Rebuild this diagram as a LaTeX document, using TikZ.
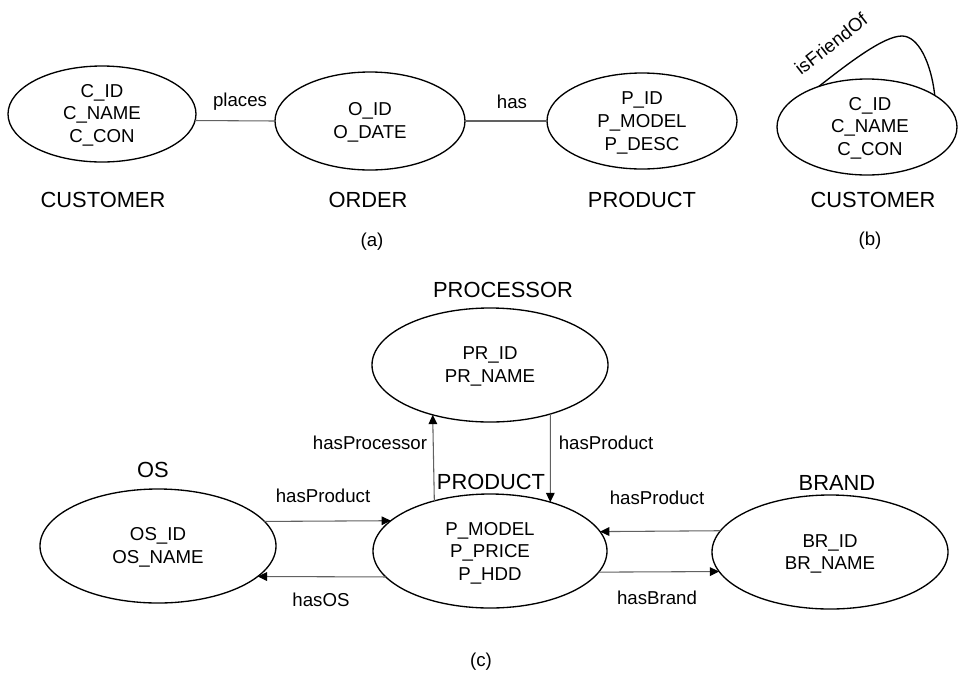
\documentclass[tikz,border=0pt]{standalone}
\usepackage{fontspec}
\setmainfont{Liberation Sans}
\usetikzlibrary{shapes.geometric,arrows.meta}
\tikzset{
  entity/.style={ellipse,draw=black,line width=1pt,inner sep=0pt,outer sep=0pt},
  attrs/.style={align=center,inner sep=0pt,font=\fontsize{14}{17}\selectfont},
  title/.style={inner sep=0pt,font=\fontsize{16.4}{20}\selectfont},
  rel/.style={inner sep=0pt,font=\fontsize{14}{17}\selectfont},
  link/.style={draw=black!62,line width=0.8pt},
  arc/.style={link,-{Triangle[length=7pt,width=6.5pt,color=black]}}
}
\newcommand{\ent}[5]{% name, x, y, rx, ry
  \node[entity,minimum width=#4*1.5pt,minimum height=#5*1.5pt] (#1) at (#2,#3) {};}
\begin{document}
\begin{tikzpicture}[x=0.75pt,y=-0.75pt]
\useasboundingbox (0,0) rectangle (960,679);

% ---------- (a) ----------
\ent{custA}{102}{114}{94}{48}
\ent{order}{370}{121}{95}{49}
\ent{prodA}{642}{121}{95}{48}
\node[attrs] (custAt) at (102,115) {C\_ID\\C\_NAME\\C\_CON};
\node[attrs] (ordert) at (370,122.5) {O\_ID\\O\_DATE};
\node[attrs] (prodAt) at (642,123) {P\_ID\\P\_MODEL\\P\_DESC};
\node[title] (custAn) at (103,200) {CUSTOMER};
\node[title] (ordern) at (368,200) {ORDER};
\node[title] (prodAn) at (642,200) {PRODUCT};
\node[rel] (capa) at (372,242) {(a)};
\draw[link] (custA.-4.3) -- (order.west);
\draw[link] (order.east) -- (prodA.west);
\node[rel] (places) at (240,102) {places};
\node[rel] (has) at (512,102) {has};

% ---------- (b) ----------
\ent{custB}{867}{127}{90}{48}
\node[attrs] (custBt) at (870,128) {C\_ID\\C\_NAME\\C\_CON};
\node[title] (custBn) at (873,200) {CUSTOMER};
\node[rel] (capb) at (870,241) {(b)};
\coordinate (loopTop) at (902,36);
\draw[line width=1pt] (custB.140) .. controls (850,62) and (884,36) .. (loopTop)
      .. controls (918,36) and (931,62) .. (custB.25);
\node[rel,rotate=38] (friend) at (831,44) {isFriendOf};

% ---------- (c) ----------
\ent{proc}{490}{365}{118}{57}
\ent{os}{158}{546}{118}{57}
\ent{prod}{490}{551}{117}{57}
\ent{brand}{830}{552}{118}{57}
\node[attrs] (proct) at (490,366.5) {PR\_ID\\PR\_NAME};
\node[attrs] (ost) at (158,547) {OS\_ID\\OS\_NAME};
\node[attrs] (prodt) at (490,553) {P\_MODEL\\P\_PRICE\\P\_HDD};
\node[attrs] (brandt) at (830,554) {BR\_ID\\BR\_NAME};
\node[title] (procn) at (503,290) {PROCESSOR};
\node[title] (osn) at (153,470) {OS};
\node[title] (prodn) at (491,482) {PRODUCT};
\node[title] (brandn) at (837,483) {BRAND};

\draw[arc] (prod.138.86) -- (proc.221.2);
\draw[arc] (proc.-39.29) -- (prod.39.18);
\draw[arc] (os.13.27) -- (prod.163.22);
\draw[arc] (prod.194.02) -- (os.-17.39);
\draw[arc] (brand.169.16) -- (prod.10.34);
\draw[arc] (prod.-11.52) -- (brand.190.84);

\node[rel] (hasProc) at (370,443) {hasProcessor};
\node[rel] (hasProdA) at (606,443) {hasProduct};
\node[rel] (hasProdB) at (323,496) {hasProduct};
\node[rel] (hasOS) at (321,600) {hasOS};
\node[rel] (hasProdC) at (657,498) {hasProduct};
\node[rel] (hasBrand) at (657,598) {hasBrand};
\node[rel] (capc) at (481,662) {(c)};
\end{tikzpicture}
\end{document}
